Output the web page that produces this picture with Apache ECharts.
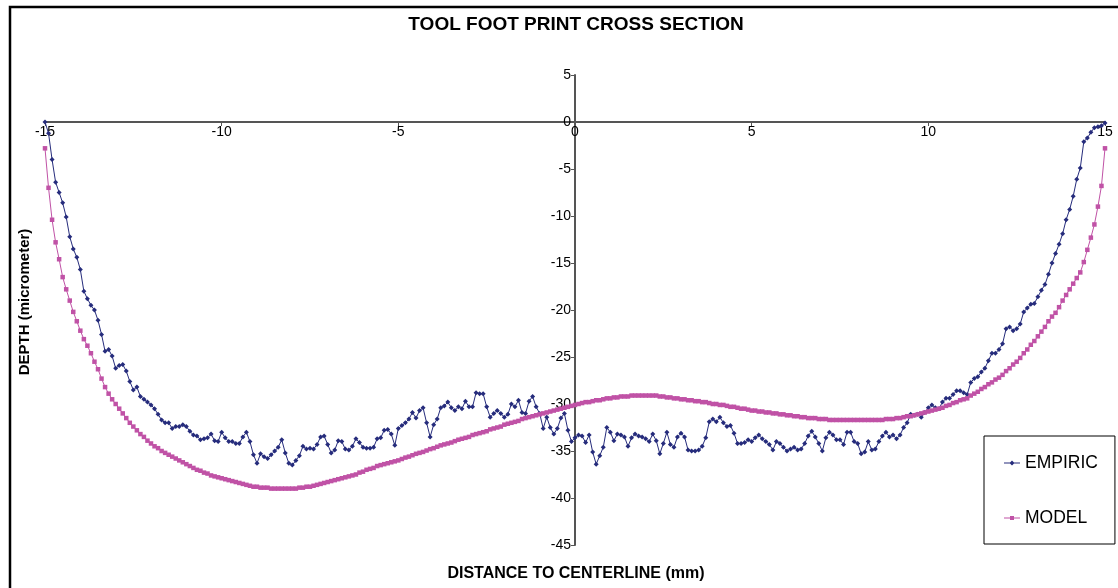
<!DOCTYPE html>
<html>
<head>
<meta charset="utf-8">
<script src="https://cdn.jsdelivr.net/npm/echarts@6/dist/echarts.min.js"></script>
<style>
html,body{margin:0;padding:0;background:#fff;}
#chart{width:1118px;height:588px;}
</style>
</head>
<body>
<div id="chart"></div>
<script>
const TITLE = 'TOOL FOOT PRINT CROSS SECTION';
const X_NAME = 'DISTANCE TO CENTERLINE (mm)';
const Y_NAME = 'DEPTH (micrometer)';
const SERIES_NAMES = ['EMPIRIC', 'MODEL'];
// distance samples: start -15 mm, step 0.1 mm
const X_START = -15;
const X_STEP = 0.1;
const EMPIRIC = [
 0, -1.2, -4.0, -6.4, -7.5, -8.6, -10.1, -12.2, -13.5, -14.4,
 -15.7, -18.0, -18.8, -19.5, -20.0, -21.1, -22.6, -24.4, -24.2, -24.9,
 -26.2, -25.9, -25.8, -26.5, -27.6, -28.5, -28.2, -29.2, -29.5, -29.8,
 -30.1, -30.5, -31.1, -31.7, -32.0, -32.0, -32.6, -32.4, -32.4, -32.2,
 -32.4, -32.9, -33.3, -33.4, -33.8, -33.7, -33.6, -33.2, -33.9, -34.0,
 -33.0, -33.6, -34.0, -34.0, -34.2, -34.2, -33.5, -33.0, -34.0, -35.4,
 -36.3, -35.3, -35.6, -35.8, -35.4, -35.0, -34.6, -33.8, -35.2, -36.3,
 -36.5, -36.0, -35.5, -34.5, -34.8, -34.7, -34.8, -34.3, -33.5, -33.4,
 -34.3, -35.2, -34.9, -33.9, -34.0, -34.8, -34.9, -34.5, -33.7, -34.1,
 -34.6, -34.7, -34.7, -34.6, -33.7, -33.6, -32.8, -32.7, -33.2, -34.4,
 -32.6, -32.3, -32.0, -31.6, -30.9, -31.5, -30.7, -30.4, -32.0, -33.5,
 -32.2, -31.6, -30.4, -30.2, -29.8, -30.4, -30.7, -30.3, -30.5, -29.7,
 -30.3, -30.3, -28.8, -28.9, -28.9, -30.3, -31.4, -31.0, -30.7, -31.0,
 -31.4, -31.1, -30.0, -30.3, -29.6, -30.9, -31.0, -29.7, -29.2, -30.3,
 -31.0, -32.6, -31.4, -32.5, -33.2, -32.6, -31.5, -31.0, -32.8, -34.0,
 -33.6, -33.3, -33.4, -34.1, -33.3, -35.1, -36.4, -35.5, -34.6, -32.5,
 -33.0, -33.9, -33.2, -33.3, -33.5, -34.5, -33.6, -33.2, -33.4, -33.5,
 -33.7, -34.0, -33.2, -33.9, -35.3, -34.2, -33.0, -34.3, -34.6, -33.5,
 -33.1, -33.5, -34.9, -35.0, -35.0, -34.9, -34.5, -33.6, -31.9, -31.6,
 -31.9, -31.4, -32.0, -32.4, -32.3, -33.1, -34.2, -34.2, -34.1, -33.8,
 -34.0, -33.6, -33.3, -33.7, -34.0, -34.3, -34.9, -34.0, -34.2, -34.6,
 -35.0, -34.8, -34.6, -34.9, -34.8, -34.2, -33.4, -32.9, -33.5, -34.2,
 -35.0, -33.6, -33.0, -33.3, -33.8, -33.8, -34.3, -33.0, -33.0, -34.0,
 -34.2, -35.3, -35.1, -34.0, -34.9, -34.8, -34.0, -33.4, -33.0, -33.5,
 -33.3, -33.7, -33.3, -32.5, -32.0, -31.1, -31.2, -31.1, -31.4, -30.9,
 -30.4, -30.1, -30.4, -30.5, -29.8, -29.4, -29.4, -29.0, -28.6, -28.6,
 -28.8, -29.0, -27.7, -27.3, -27.1, -26.6, -26.2, -25.4, -24.6, -24.6,
 -24.2, -23.6, -22.0, -21.8, -22.2, -22.0, -21.5, -20.2, -19.8, -19.4,
 -19.3, -18.6, -17.9, -17.3, -16.2, -15.0, -14.0, -13.0, -11.9, -10.4,
 -9.3, -7.9, -6.1, -4.9, -2.1, -1.7, -1.1, -0.6, -0.5, -0.4,
 -0.1
];
const MODEL = [
 -2.8, -7.0, -10.4, -12.8, -14.6, -16.5, -17.8, -19.0, -20.2, -21.2,
 -22.2, -23.1, -23.8, -24.6, -25.5, -26.3, -27.3, -28.2, -28.9, -29.5,
 -30.0, -30.5, -31.0, -31.5, -32.0, -32.4, -32.8, -33.2, -33.5, -33.9,
 -34.2, -34.5, -34.7, -35.0, -35.2, -35.4, -35.6, -35.8, -36.0, -36.2,
 -36.4, -36.6, -36.8, -37.0, -37.1, -37.3, -37.4, -37.6, -37.7, -37.8,
 -37.9, -38.0, -38.1, -38.2, -38.3, -38.4, -38.5, -38.6, -38.7, -38.8,
 -38.8, -38.9, -38.9, -38.9, -39.0, -39.0, -39.0, -39.0, -39.0, -39.0,
 -39.0, -39.0, -38.9, -38.9, -38.8, -38.8, -38.7, -38.6, -38.5, -38.4,
 -38.3, -38.2, -38.1, -38.0, -37.9, -37.8, -37.7, -37.6, -37.5, -37.3,
 -37.2, -37.0, -36.9, -36.8, -36.6, -36.5, -36.4, -36.3, -36.2, -36.1,
 -36.0, -35.85, -35.7, -35.6, -35.45, -35.3, -35.2, -35.1, -34.95, -34.8,
 -34.7, -34.55, -34.4, -34.3, -34.2, -34.1, -33.95, -33.8, -33.7, -33.6,
 -33.5, -33.3, -33.2, -33.1, -33.0, -32.9, -32.7, -32.6, -32.5, -32.4,
 -32.2, -32.1, -32.0, -31.9, -31.8, -31.6, -31.5, -31.4, -31.3, -31.2,
 -31.1, -31.0, -30.9, -30.8, -30.7, -30.6, -30.5, -30.4, -30.3, -30.2,
 -30.1, -30.0, -29.9, -29.8, -29.8, -29.7, -29.6, -29.6, -29.5, -29.4,
 -29.4, -29.3, -29.3, -29.2, -29.2, -29.2, -29.1, -29.1, -29.1, -29.1,
 -29.1, -29.1, -29.1, -29.1, -29.2, -29.2, -29.3, -29.3, -29.4, -29.4,
 -29.5, -29.5, -29.6, -29.6, -29.7, -29.7, -29.8, -29.8, -29.9, -30.0,
 -30.0, -30.1, -30.1, -30.2, -30.3, -30.3, -30.4, -30.5, -30.5, -30.6,
 -30.7, -30.7, -30.8, -30.8, -30.9, -30.9, -31.0, -31.0, -31.1, -31.1,
 -31.2, -31.2, -31.3, -31.3, -31.4, -31.4, -31.5, -31.5, -31.5, -31.6,
 -31.6, -31.6, -31.7, -31.7, -31.7, -31.7, -31.7, -31.7, -31.7, -31.7,
 -31.7, -31.7, -31.7, -31.7, -31.7, -31.7, -31.7, -31.7, -31.6, -31.6,
 -31.6, -31.5, -31.5, -31.4, -31.3, -31.3, -31.2, -31.1, -31.0, -30.9,
 -30.8, -30.7, -30.6, -30.5, -30.4, -30.2, -30.1, -29.9, -29.8, -29.6,
 -29.5, -29.4, -29.1, -28.9, -28.7, -28.4, -28.2, -27.9, -27.7, -27.4,
 -27.2, -26.9, -26.5, -26.2, -25.8, -25.5, -25.1, -24.6, -24.2, -23.7,
 -23.3, -22.8, -22.3, -21.8, -21.2, -20.7, -20.3, -19.7, -19.0, -18.4,
 -17.8, -17.2, -16.6, -16.0, -14.9, -13.6, -12.3, -10.9, -9.0, -6.8,
 -2.8
];
const X_MIN = -15, X_MAX = 15, X_INTERVAL = 5;
const Y_MIN = -45, Y_MAX = 5, Y_INTERVAL = 5;

const FONT = '"Liberation Sans", Arial, sans-serif';
const GRID = {left: 45, right: 13, top: 75, bottom: 43};
const W = 1118, H = 588;
const plotW = W - GRID.left - GRID.right;
const plotH = H - GRID.top - GRID.bottom;
// place each axis where the other axis value is zero (axes cross at origin)
const yAxisOffset = -plotW * (0 - X_MIN) / (X_MAX - X_MIN);
const xAxisOffset = -plotH * (0 - Y_MIN) / (Y_MAX - Y_MIN);

function pairs(arr) {
  return arr.map((v, i) => [Math.round((X_START + i * X_STEP) * 100) / 100, v]);
}

const ICON_EMPIRIC = 'path://M0,6.6H16V7.4H0Z M8,4.5L10.5,7L8,9.5L5.5,7Z';
const ICON_MODEL = 'path://M0,6.5H16V7.5H0Z M6,5H10V9H6Z';

const chart = echarts.init(document.getElementById('chart'), null, {renderer: 'canvas'});
chart.setOption({
  animation: false,
  backgroundColor: '#ffffff',
  grid: {left: GRID.left, right: GRID.right, top: GRID.top, bottom: GRID.bottom, containLabel: false},
  xAxis: {
    type: 'value', min: X_MIN, max: X_MAX, interval: X_INTERVAL,
    position: 'bottom', offset: xAxisOffset,
    axisLine: {onZero: false, lineStyle: {color: '#555555', width: 2}},
    axisTick: {show: true, length: 4, lineStyle: {color: '#555555', width: 1}},
    axisLabel: {color: '#000', fontFamily: FONT, fontSize: 14, margin: 3},
    splitLine: {show: false}
  },
  yAxis: {
    type: 'value', min: Y_MIN, max: Y_MAX, interval: Y_INTERVAL,
    position: 'left', offset: yAxisOffset,
    axisLine: {onZero: false, lineStyle: {color: '#555555', width: 2}},
    axisTick: {show: true, length: 4, lineStyle: {color: '#555555', width: 1}},
    axisLabel: {color: '#000', fontFamily: FONT, fontSize: 14, margin: 4},
    splitLine: {show: false}
  },
  legend: {
    orient: 'vertical', left: 984, top: 436,
    padding: [18, 17, 17, 20], itemGap: 37,
    itemWidth: 16, itemHeight: 5,
    borderColor: '#000', borderWidth: 1,
    textStyle: {fontFamily: FONT, fontSize: 17.5, color: '#000'},
    data: [
      {name: SERIES_NAMES[0], icon: ICON_EMPIRIC},
      {name: SERIES_NAMES[1], icon: ICON_MODEL}
    ]
  },
  graphic: [
    {type: 'rect', shape: {x: 10, y: 7, width: 1200, height: 700}, style: {fill: 'none', stroke: '#000', lineWidth: 2.5}, silent: true},
    {type: 'text', x: 576, y: 25, style: {text: TITLE, font: 'bold 19px ' + FONT, fill: '#000', textAlign: 'center', textVerticalAlign: 'middle'}},
    {type: 'text', x: 576, y: 574, style: {text: X_NAME, font: 'bold 16px ' + FONT, fill: '#000', textAlign: 'center', textVerticalAlign: 'middle'}},
    {type: 'text', x: 25, y: 302, rotation: Math.PI / 2, style: {text: Y_NAME, font: 'bold 15px ' + FONT, fill: '#000', textAlign: 'center', textVerticalAlign: 'middle'}}
  ],
  series: [
    {
      name: SERIES_NAMES[0], type: 'line', data: pairs(EMPIRIC),
      symbol: 'diamond', symbolSize: 5, showAllSymbol: true,
      lineStyle: {color: '#262C7C', width: 1},
      itemStyle: {color: '#262C7C'},
      z: 2
    },
    {
      name: SERIES_NAMES[1], type: 'line', data: pairs(MODEL),
      symbol: 'rect', symbolSize: 4.5, showAllSymbol: true,
      lineStyle: {color: '#C052A6', width: 1},
      itemStyle: {color: '#C052A6'},
      z: 3
    }
  ]
});
</script>
</body>
</html>
